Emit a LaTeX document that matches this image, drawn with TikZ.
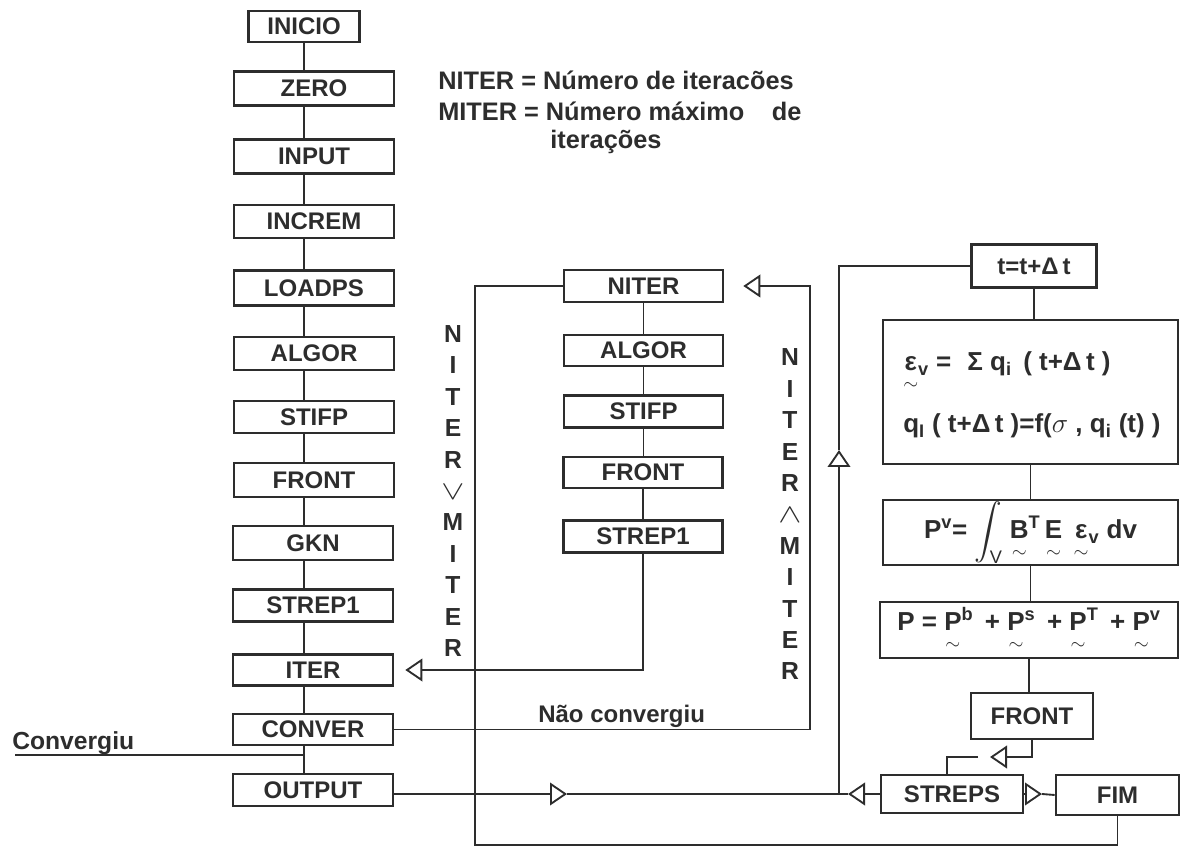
\documentclass[tikz,border=0pt]{standalone}
\usepackage{amsmath}
\usepackage{fontspec}
\setmainfont{Liberation Sans}
\usetikzlibrary{arrows.meta,calc}
\definecolor{ink}{RGB}{45,45,45}
\newcommand\utl[1]{\ensuremath{\underset{\raisebox{-1.5pt}{$\scriptstyle\sim$}}{\text{#1}}}}
\newcommand\labf{\fontsize{18}{20}\selectfont\bfseries}
\newcommand\eqf{\fontsize{19.5}{22}\selectfont\bfseries}
\newcommand\legf{\fontsize{19}{22}\selectfont\bfseries}
\newcommand\vertf{\fontsize{18.5}{23.55}\selectfont\bfseries}
\begin{document}
\begin{tikzpicture}[x=0.75pt,y=-0.75pt,
  bx/.style 2 args={draw=ink, line width=2pt, inner sep=0pt, minimum width=#1*0.75pt, minimum height=#2*0.75pt, font=\labf, text=ink},
  con/.style={draw=ink, line width=1.4pt},
  arr/.style={con, -{Triangle[open, length=12.75pt, width=17pt]}},
  leg/.style={font=\legf, text=ink, inner sep=0pt},
  vlab/.style={font=\vertf, text=ink, inner sep=0pt, align=center},
  eqt/.style={font=\eqf, text=ink, inner sep=0pt}
]
\useasboundingbox (0,0) rectangle (1182,848);

% left column
\node[bx={111}{31}] (inicio) at (304,26.5) {INICIO};
\node[bx={160}{34}] (zero) at (314,88.5) {ZERO};
\node[bx={160}{34}] (input) at (314,156.5) {INPUT};
\node[bx={160}{33}] (increm) at (314,221.5) {INCREM};
\node[bx={160}{35}] (loadps) at (314,288) {LOADPS};
\node[bx={160}{33}] (algorl) at (314,353.5) {ALGOR};
\node[bx={160}{32}] (stifpl) at (314,417) {STIFP};
\node[bx={160}{34}] (frontl) at (314,480) {FRONT};
\node[bx={160}{34}] (gkn) at (313,543) {GKN};
\node[bx={160}{32}] (strepl) at (313,605.5) {STREP1};
\node[bx={160}{31}] (iter) at (313,670) {ITER};
\node[bx={160}{31}] (conver) at (313,729.5) {CONVER};
\node[bx={160}{32}] (output) at (313,790) {OUTPUT};

\foreach \a/\b in {inicio/zero,zero/input,input/increm,increm/loadps,loadps/algorl,algorl/stifpl,stifpl/frontl,frontl/gkn,gkn/strepl,strepl/iter,iter/conver,conver/output}
  \draw[con] (\a.south -| inicio.south) -- (\b.north -| inicio.south);

% Convergiu
\coordinate (cvs) at (15,755);
\draw[con] (cvs) -- (cvs -| inicio.south);
\node[font=\fontsize{18.5}{20}\selectfont\bfseries, text=ink, inner sep=0pt, anchor=base west] (cvt) at (12,749) {Convergiu};

% legend
\node[leg, anchor=base west] (lg1) at (438,90) {NITER = Número de iteracões};
\node[leg, anchor=base west] (lg2) at (438,121) {MITER = Número máximo\hspace{1.08em}de};
\node[leg, anchor=base west] (lg3) at (550,149) {iterações};

% middle column
\node[bx={159}{32}] (niter) at (643.5,286) {NITER};
\node[bx={159}{31}] (algorm) at (643.5,350.5) {ALGOR};
\node[bx={159}{32}] (stifpm) at (643.5,411.5) {STIFP};
\node[bx={159}{31}] (frontm) at (643,472.5) {FRONT};
\node[bx={159}{32}] (strepm) at (643,536.5) {STREP1};
\foreach \a/\b in {niter/algorm,algorm/stifpm,stifpm/frontm,frontm/strepm}
  \draw[con] (\a.south) -- (\a.south |- \b.north);

\draw[arr] (strepm.south) |- ([xshift=11*0.75pt]iter.east);

% vertical labels
\node[vlab] (lvl) at (453,491) {N\\I\\T\\E\\R\\\scalebox{1.5}[1.15]{$\vee$}\\M\\I\\T\\E\\R};
\node[vlab] (rvl) at (790,514.5) {N\\I\\T\\E\\R\\\scalebox{1.5}[1.15]{$\wedge$}\\M\\I\\T\\E\\R};

% right loop (nao convergiu)
\coordinate (rl) at (810,286);
\draw[arr] (conver.east) -| (rl) -- ([xshift=19*0.75pt]niter.east);
\node[font=\fontsize{18}{20}\selectfont\bfseries, text=ink, inner sep=0pt, anchor=base west] (nc) at (538,722) {Não convergiu};

% right column
\node[bx={125}{43}] (tbox) at (1034,266) {t=t+Δ\,t};
\node[draw=ink, line width=2pt, inner sep=0pt, minimum width=295*0.75pt, minimum height=144*0.75pt] (eqbox) at (1030.5,392) {};
\node[eqt, anchor=base west] (eq1) at (903,371) {\utl{ε}\textsubscript{v} = \,\,Σ q\textsubscript{i} \,( t+Δ\,t )};
\node[eqt, anchor=base west] (eq2) at (903,433) {q\textsubscript{I} ( t+Δ\,t )=f($\sigma$ , q\textsubscript{i} (t) )};
\node[bx={295}{65}, font=\eqf] (pvbox) at (1030.5,532.5) {P\textsuperscript{v}= $\displaystyle\int_{\mathrm{V}}$ \utl{B}\textsuperscript{T}\,\utl{E}\, \utl{ε}\textsubscript{v} dv};
\node[bx={298}{56}, font=\eqf] (pbox) at (1029,630) {P = \utl{P}\textsuperscript{b} \,+ \utl{P}\textsuperscript{s} \,+ \utl{P}\textsuperscript{T} \,+ \utl{P}\textsuperscript{v}};
\node[bx={122}{46}] (front2) at (1032,716) {FRONT};
\node[bx={142}{38}] (streps) at (952,794) {STREPS};
\node[bx={123}{40}] (fim) at (1117.5,795) {FIM};

\foreach \a/\b in {tbox/eqbox,eqbox/pvbox,pvbox/pbox,pbox/front2}
  \draw[con] (\a.south) -- (\a.south |- \b.north);

% front -> streps
\coordinate (fa) at (990,757);
\coordinate (fb) at (978,757);
\draw[arr] (front2.south) |- (fa);
\draw[con] (fb) -| ([xshift=-5*0.75pt]streps.north);

% streps -> fim
\coordinate (sf) at (1042,794);
\draw[arr] (streps.east) -- (sf);
\draw[con] (sf) -- (fim.west);

% output line and junction
\coordinate (jn) at (839,794);
\coordinate (oa) at (567,794);
\coordinate (sa) at (848,794);
\draw[arr] (output.east |- jn) -- (oa);
\draw[con] (oa) -- (sa);
\draw[arr] (streps.west) -- (sa);
\coordinate (ua) at (839,450);
\draw[arr] (jn) -- (ua);
\draw[con] (ua) |- (tbox.west);

% outer loop FIM -> NITER
\coordinate (lb) at (475,845);
\draw[con] (niter.west) -| (lb) -| (fim.south);
\end{tikzpicture}
\end{document}
